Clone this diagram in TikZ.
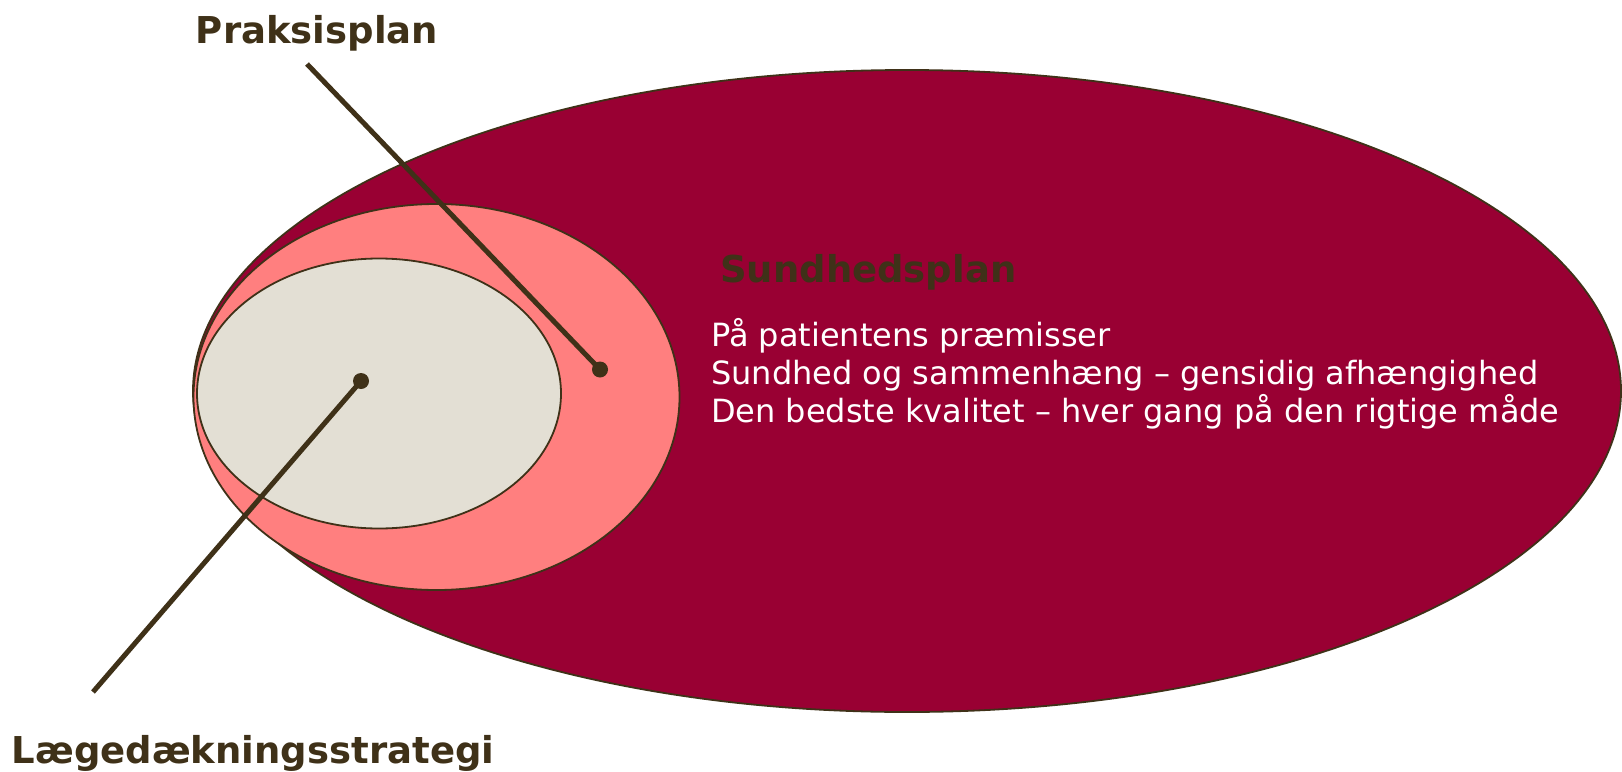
\documentclass[tikz,border=0pt]{standalone}
\usepackage{fontspec}
\setmainfont{DejaVu Sans}
\usetikzlibrary{shapes.geometric}
\definecolor{crim}{HTML}{990033}
\definecolor{pinkf}{HTML}{FF7F7F}
\definecolor{beige}{HTML}{E3DFD4}
\definecolor{brn}{HTML}{3F3118}
\tikzset{
  oval/.style={ellipse, draw=brn, line width=1.8pt, inner sep=0pt},
  lbl/.style={text=brn, font=\bfseries\fontsize{37}{44}\selectfont, inner sep=0pt},
  wtxt/.style={text=white, font=\fontsize{32}{38}\selectfont, inner sep=0pt, anchor=base west},
  pin/.style={circle, fill=brn, minimum size=16pt, inner sep=0pt},
  lead/.style={draw=brn, line width=5pt}
}
\begin{document}
\begin{tikzpicture}[x=1pt,y=-1pt]
\useasboundingbox (0,0) rectangle (1622,771);
\node[oval, fill=crim, minimum width=1428pt, minimum height=642pt] (big) at (907,391) {};
\node[oval, fill=pinkf, minimum width=486pt, minimum height=386pt] (mid) at (436.5,397) {};
\node[oval, fill=beige, minimum width=364pt, minimum height=270pt] (small) at (379,393.5) {};
\node[lbl, anchor=base] (prak) at (317,43) {Praksisplan};
\node[lbl, anchor=base] (laege) at (253,763) {Lægedækningsstrategi};
\node[lbl, anchor=base west] (sund) at (720,282) {Sundhedsplan};
\node[wtxt] (l1) at (711,346) {På patientens præmisser};
\node[wtxt] (l2) at (711,384) {Sundhed og sammenhæng – gensidig afhængighed};
\node[wtxt] (l3) at (711,422) {Den bedste kvalitet – hver gang på den rigtige måde};
\node[pin] (d1) at (600,369.5) {};
\node[pin] (d2) at (361,381) {};
\coordinate (p1) at (307,64);
\coordinate (p2) at (93,692);
\draw[lead] (p1) -- (d1.center);
\draw[lead] (p2) -- (d2.center);
\end{tikzpicture}
\end{document}
